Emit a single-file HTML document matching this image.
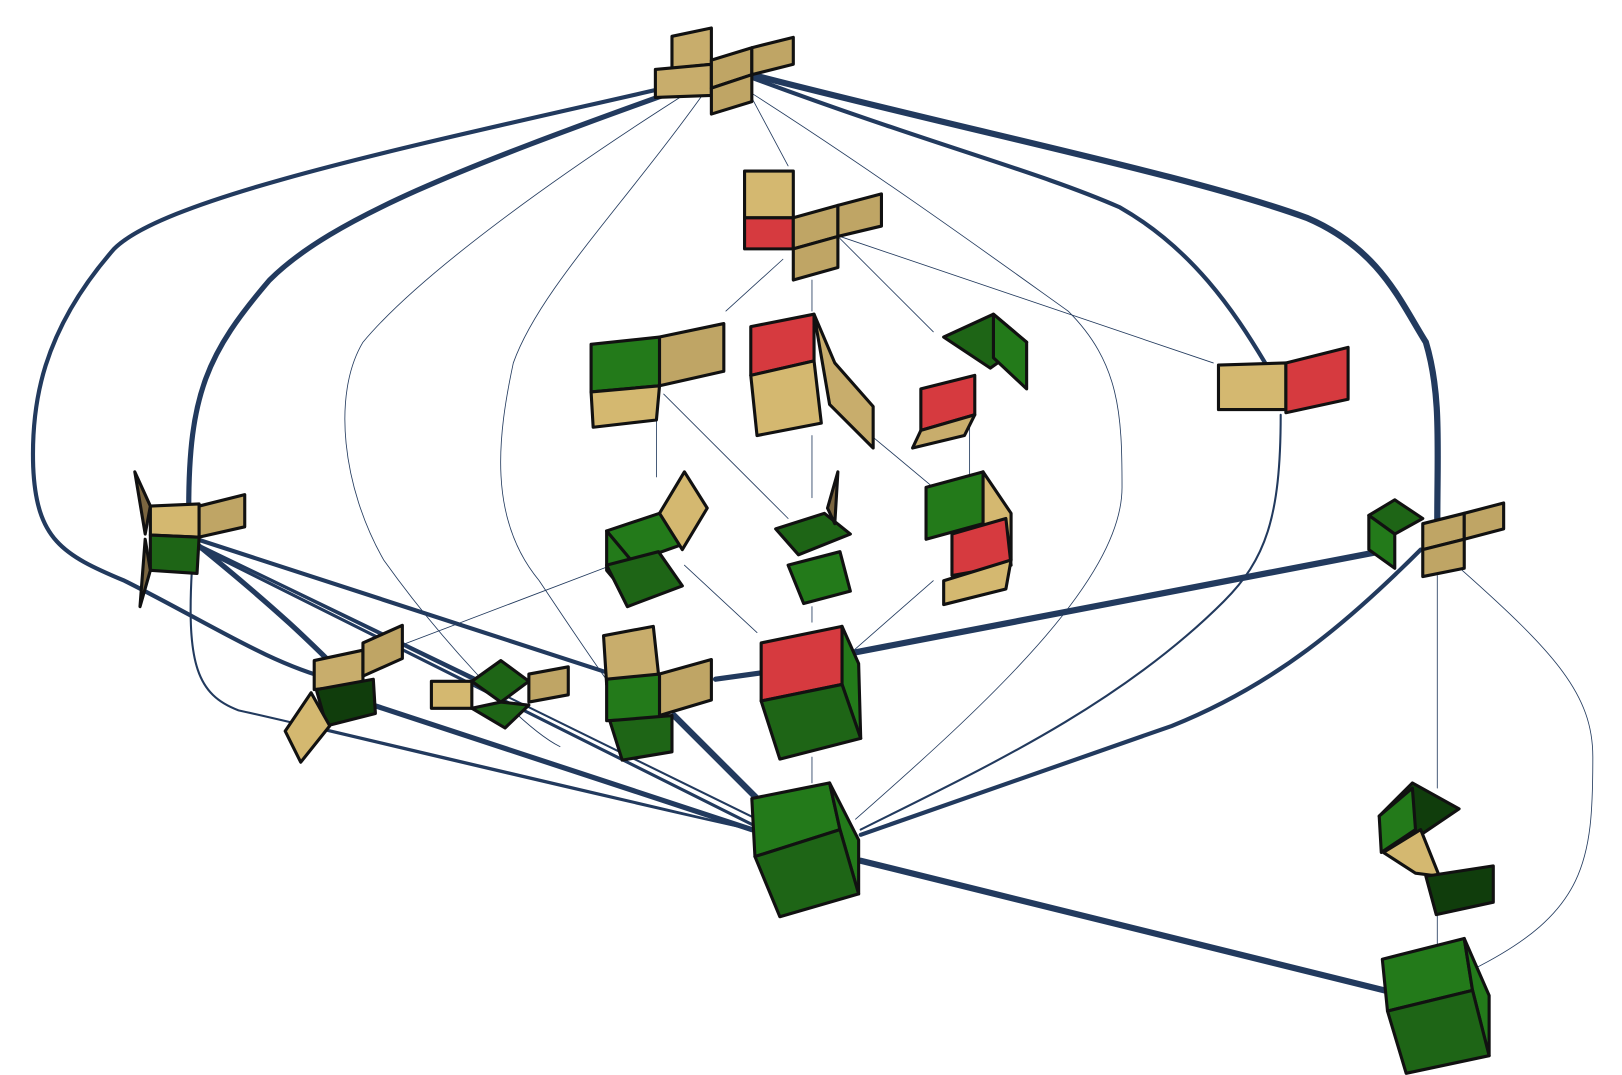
<!DOCTYPE html>
<html><head><meta charset="utf-8"><style>html,body{margin:0;padding:0;background:#fff}svg{display:block}</style></head>
<body>
<svg width="1622" height="1075" viewBox="0 0 1622 1075" xmlns="http://www.w3.org/2000/svg">
<defs>
<marker id="a" viewBox="0 0 10 10" refX="5" refY="5" markerWidth="4" markerHeight="4" orient="auto"><path d="M0,0L10,5L0,10z" fill="#223a5e"/></marker>
</defs>
<g transform="scale(1.037)">
<g fill="none" stroke="#223a5e" stroke-linecap="round">
<path d="M640,85 C400,140 160,190 110,240 C40,320 30,390 32,450 C35,520 60,535 120,560 C200,600 260,640 320,655" stroke-width="4"/>
<path d="M645,90 C450,160 320,210 260,270 C200,340 182,380 182,490" stroke-width="5"/>
<path d="M725,72 C950,130 1150,170 1260,210 C1330,240 1350,290 1375,330 C1390,380 1386,430 1386,505" stroke-width="6"/>
<path d="M725,75 C900,140 1000,165 1080,200 C1150,240 1190,300 1220,350" stroke-width="4"/>
<path d="M190,525 C270,590 300,620 330,650" stroke-width="5"/>
<path d="M190,520 L590,650" stroke-width="4"/>
<path d="M190,525 L470,660" stroke-width="3"/>
<path d="M185,525 L725,795" stroke-width="3"/>
<path d="M190,525 L730,790" stroke-width="2"/>
<path d="M360,680 L725,800" stroke-width="5"/>
<path d="M300,700 L725,800" stroke-width="2"/>
<path d="M185,550 C180,640 190,670 230,685 C300,700 500,750 725,800" stroke-width="2"/>
<path d="M650,690 L730,770" stroke-width="6"/>
<path d="M690,655 L740,648" stroke-width="5"/>
<path d="M820,630 L1330,532" stroke-width="6"/>
<path d="M1370,530 C1300,600 1230,660 1130,700 C1000,745 900,780 830,805" stroke-width="4"/>
<path d="M1235,400 C1235,500 1220,540 1180,580 C1080,680 950,740 830,800" stroke-width="2"/>
<path d="M830,830 L1335,955" stroke-width="6"/>
<g stroke-width="0.8">
<path d="M720,85 L760,160"/>
<path d="M665,88 C520,180 400,270 350,330 C320,380 330,470 370,540 C420,610 500,700 540,720"/>
<path d="M680,88 C600,200 520,280 495,350 C480,420 470,500 520,560 C560,620 600,680 620,700"/>
<path d="M725,90 C850,170 960,250 1030,300 C1080,350 1082,400 1082,470 C1082,560 950,680 825,790"/>
<path d="M755,250 L700,300"/><path d="M783,270 L783,300"/><path d="M810,230 L900,320"/><path d="M810,228 L1170,350"/>
<path d="M633,400 L633,460"/><path d="M640,380 L760,500"/><path d="M783,420 L783,480"/><path d="M840,420 L900,470"/><path d="M935,410 L935,460"/>
<path d="M590,545 L340,640"/><path d="M660,545 L730,610"/><path d="M783,585 L783,600"/><path d="M900,560 L820,630"/><path d="M783,730 L783,755"/>
<path d="M1386,555 L1386,760"/>
<path d="M1410,550 C1500,630 1536,670 1536,730 C1536,830 1530,880 1420,935"/>
<path d="M1386,880 L1386,910"/>
</g>
</g>
<g stroke="#111" stroke-width="3" stroke-linejoin="round">
<polygon points="648,35 686,27 686,62 648,66" fill="#c8ad6c"/>
<polygon points="632,67 686,62 686,92 632,94" fill="#c8ad6c"/>
<polygon points="686,58 725,46 725,72 686,85" fill="#bfa565"/>
<polygon points="725,46 765,36 765,62 725,72" fill="#bfa565"/>
<polygon points="686,85 725,72 725,98 686,110" fill="#bfa565"/>
<polygon points="718,165 765,165 765,210 718,210" fill="#d4b870"/>
<polygon points="718,210 765,210 765,240 718,240" fill="#d63a3f"/>
<polygon points="765,210 808,198 808,228 765,240" fill="#bfa565"/>
<polygon points="808,198 850,187 850,218 808,228" fill="#bfa565"/>
<polygon points="765,240 808,228 808,258 765,270" fill="#bfa565"/>
<polygon points="570,332 636,325 636,372 570,378" fill="#237a1a"/>
<polygon points="636,325 698,312 698,358 636,372" fill="#bfa565"/>
<polygon points="570,378 636,372 633,405 572,412" fill="#d4b870"/>
<polygon points="724,315 785,303 785,348 724,362" fill="#d63a3f"/>
<polygon points="724,362 785,348 792,408 730,420" fill="#d4b870"/>
<polygon points="785,303 805,350 842,392 842,432 800,390" fill="#c8ad6c"/>
<polygon points="910,325 958,303 990,330 955,355" fill="#1e6516"/>
<polygon points="958,303 990,330 990,375 958,345" fill="#237a1a"/>
<polygon points="888,375 940,362 940,400 888,415" fill="#d63a3f"/>
<polygon points="888,415 940,400 930,420 880,432" fill="#c8ad6c"/>
<polygon points="1175,352 1240,350 1240,395 1175,395" fill="#d4b870"/>
<polygon points="1240,350 1300,335 1300,385 1240,398" fill="#d63a3f"/>
<polygon points="145,488 192,486 192,518 145,516" fill="#d4b870"/>
<polygon points="192,488 236,477 236,508 192,518" fill="#bfa565"/>
<polygon points="145,516 192,518 190,553 145,550" fill="#1e6516"/>
<polygon points="130,455 145,488 140,515" fill="#7a6540"/>
<polygon points="140,520 145,550 135,585" fill="#7a6540"/>
<polygon points="585,512 636,495 658,525 610,542" fill="#237a1a"/>
<polygon points="585,512 610,542 610,580 585,550" fill="#237a1a"/>
<polygon points="585,545 635,532 658,565 605,585" fill="#1e6516"/>
<polygon points="636,495 660,455 682,490 658,530" fill="#d4b870"/>
<polygon points="748,510 795,495 820,515 770,535" fill="#1e6516"/>
<polygon points="760,545 810,532 820,570 775,582" fill="#237a1a"/>
<polygon points="798,490 808,455 805,505" fill="#7a6540"/>
<polygon points="893,470 948,455 948,505 893,520" fill="#237a1a"/>
<polygon points="948,455 975,495 975,540 948,505" fill="#d4b870"/>
<polygon points="918,515 970,500 975,545 918,555" fill="#d63a3f"/>
<polygon points="910,560 975,540 970,568 910,583" fill="#d4b870"/>
<polygon points="1320,497 1345,482 1372,500 1345,515" fill="#1e6516"/>
<polygon points="1320,497 1345,515 1345,548 1320,530" fill="#237a1a"/>
<polygon points="1372,505 1412,495 1412,520 1372,530" fill="#bfa565"/>
<polygon points="1412,495 1450,485 1450,510 1412,520" fill="#bfa565"/>
<polygon points="1372,530 1412,520 1412,548 1372,556" fill="#bfa565"/>
<polygon points="303,637 350,627 350,660 303,665" fill="#c8ad6c"/>
<polygon points="350,620 388,603 388,635 350,652" fill="#bfa565"/>
<polygon points="305,665 360,655 362,688 315,700" fill="#103d0c"/>
<polygon points="300,668 318,700 290,735 275,705" fill="#d4b870"/>
<polygon points="416,657 455,657 455,683 416,683" fill="#d4b870"/>
<polygon points="455,657 483,637 510,657 483,677" fill="#1e6516"/>
<polygon points="455,683 483,677 510,680 487,702" fill="#1e6516"/>
<polygon points="510,650 548,643 548,670 510,677" fill="#bfa565"/>
<polygon points="582,613 630,604 635,650 585,660" fill="#c8ad6c"/>
<polygon points="585,655 636,650 636,693 585,695" fill="#237a1a"/>
<polygon points="636,650 686,636 686,675 636,690" fill="#bfa565"/>
<polygon points="588,695 648,690 648,725 600,733" fill="#1e6516"/>
<polygon points="734,620 812,604 812,660 734,676" fill="#d63a3f"/>
<polygon points="812,604 828,640 830,712 812,660" fill="#237a1a"/>
<polygon points="734,676 812,660 830,712 752,732" fill="#1e6516"/>
<polygon points="725,770 800,755 810,800 728,826" fill="#237a1a"/>
<polygon points="800,755 828,810 828,862 810,800" fill="#237a1a"/>
<polygon points="728,826 810,800 828,862 752,884" fill="#1e6516"/>
<polygon points="1330,787 1362,755 1407,780 1370,805" fill="#103d0c"/>
<polygon points="1330,787 1362,760 1365,800 1332,822" fill="#237a1a"/>
<polygon points="1334,822 1370,800 1388,845 1365,842" fill="#d4b870"/>
<polygon points="1375,845 1440,835 1440,870 1385,882" fill="#103d0c"/>
<polygon points="1333,925 1412,905 1420,955 1338,975" fill="#237a1a"/>
<polygon points="1412,905 1436,960 1436,1018 1420,955" fill="#237a1a"/>
<polygon points="1338,975 1420,955 1436,1018 1356,1035" fill="#1e6516"/>
</g>
</g>
</svg>
</body></html>
